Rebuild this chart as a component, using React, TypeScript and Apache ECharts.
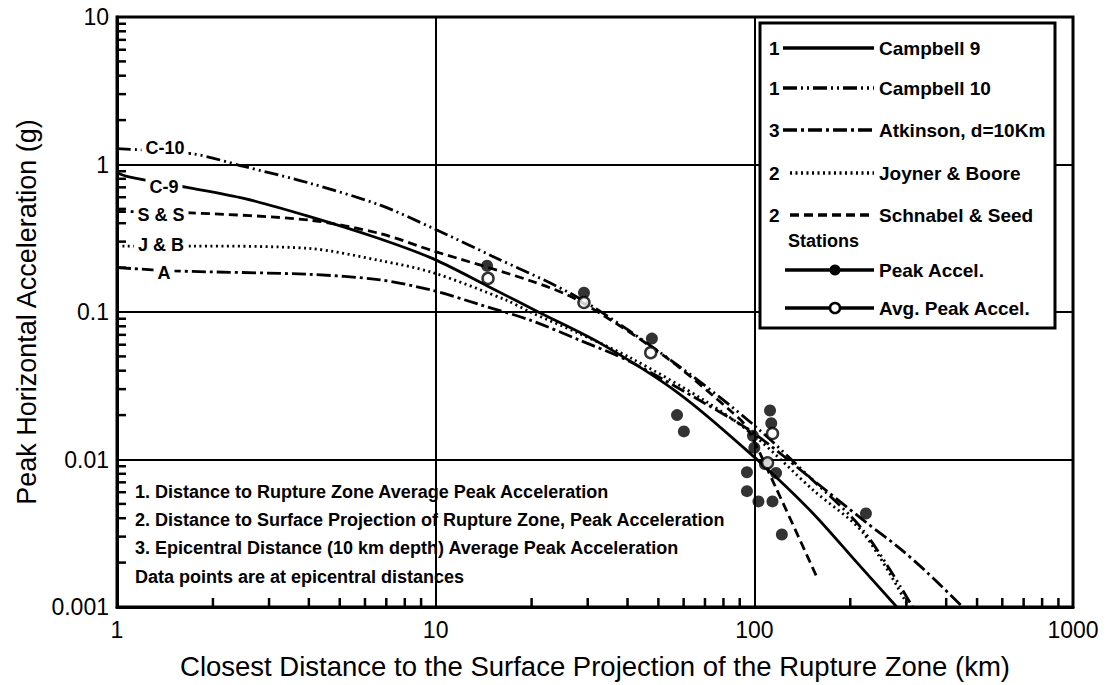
import React, { useEffect, useRef } from "react";
import * as echarts from "echarts";

// ---------- data ----------
const xTicks = [1, 10, 100, 1000];
const xTickLabels = ["1", "10", "100", "1000"];
const yTicks = [0.001, 0.01, 0.1, 1, 10];
const yTickLabels = ["0.001", "0.01", "0.1", "1", "10"];
const xMinorTicks = [2, 3, 4, 5, 6, 7, 8, 9, 20, 30, 40, 50, 60, 70, 80, 90, 200, 300, 400, 500, 600, 700, 800, 900];
const yMinorTicks = [0.002, 0.003, 0.004, 0.005, 0.006, 0.007, 0.008, 0.009, 0.02, 0.03, 0.04, 0.05, 0.06, 0.07, 0.08, 0.09, 0.2, 0.3, 0.4, 0.5, 0.6, 0.7, 0.8, 0.9, 2, 3, 4, 5, 6, 7, 8, 9];

const c9Dist = [1, 1.1, 1.66, 2.5, 4, 6.5, 9.8, 15, 21, 33, 58, 97, 150, 210, 280];
const c9Acc = [0.88, 0.82, 0.7, 0.59, 0.445, 0.32, 0.23, 0.145, 0.1, 0.061, 0.028, 0.011, 0.0045, 0.002, 0.001];

const c10Dist = [1, 1.73, 2.5, 4, 6.7, 9.8, 15, 28, 58, 100, 150, 220, 314];
const c10Acc = [1.28, 1.18, 0.97, 0.75, 0.53, 0.37, 0.24, 0.125, 0.043, 0.017, 0.0075, 0.0033, 0.001];

const atkDist = [1, 1.5, 4, 6.7, 9.8, 13.8, 19.8, 28, 40.8, 70, 100, 150, 226, 286, 350, 451];
const atkAcc = [0.2, 0.19, 0.18, 0.165, 0.14, 0.112, 0.088, 0.065, 0.046, 0.024, 0.015, 0.0075, 0.0037, 0.0025, 0.0017, 0.001];

const jbDist = [1, 1.73, 4, 6.7, 9.8, 16.7, 19.8, 28, 40.8, 70, 100, 153, 219, 305];
const jbAcc = [0.28, 0.28, 0.27, 0.223, 0.185, 0.12, 0.1, 0.072, 0.049, 0.025, 0.0145, 0.0062, 0.0032, 0.001];

const ssDist = [1, 1.7, 4, 6.7, 9.8, 19.8, 28, 53, 85, 94.5, 117, 157];
const ssAcc = [0.48, 0.47, 0.42, 0.34, 0.26, 0.163, 0.12, 0.049, 0.021, 0.0166, 0.0064, 0.0016];

const peakDist = [14.5, 29.2, 47.7, 57.2, 60.1, 112, 113, 94.8, 94.8, 103, 114, 122, 224, 99, 108, 117, 100];
const peakAcc = [0.206, 0.135, 0.066, 0.02, 0.0155, 0.0215, 0.0176, 0.0082, 0.0061, 0.0052, 0.0052, 0.0031, 0.0043, 0.0145, 0.0093, 0.0081, 0.012];

const avgDist = [14.6, 29.2, 47.3, 114, 110];
const avgAcc = [0.169, 0.116, 0.053, 0.015, 0.0095];

const legendNames = ["Campbell 9", "Campbell 10", "Atkinson, d=10Km", "Joyner & Boore", "Schnabel & Seed"];
const legendPrefix = ["1", "1", "3", "2", "2"];
const stationNames = ["Peak Accel.", "Avg. Peak Accel."];
const curveLabels = ["C-10", "C-9", "S & S", "J & B", "A"];
const notes = [
  "1. Distance to Rupture Zone Average Peak Acceleration",
  "2. Distance to Surface Projection of Rupture Zone, Peak Acceleration",
  "3. Epicentral Distance (10 km depth) Average Peak Acceleration",
  "Data points are at epicentral distances",
];
const xTitle = "Closest Distance to the Surface Projection of the Rupture Zone (km)";
const yTitle = "Peak Horizontal Acceleration (g)";

// ---------- layout & styles ----------
const W = 1111;
const H = 685;
const GRID = { left: 117, right: 38, top: 17, bottom: 78 };
const FONT = '"Liberation Sans", Arial, Helvetica, sans-serif';
const dashC9: any = "solid";
const dashC10 = [14, 4, 2, 4, 2, 4];
const dashAtk = [14, 4, 3, 4];
const dashJB = [2, 3.5];
const dashSS = [9, 5];

const zip = (xs: number[], ys: number[]) => xs.map((x, i) => [x, ys[i]]);

function fmt(ticks: number[], labels: string[]) {
  return (v: number) => {
    const i = ticks.findIndex((t) => Math.abs(Math.log10(t) - Math.log10(v)) < 1e-6);
    return i >= 0 ? labels[i] : "";
  };
}

export default function App() {
  const ref = useRef<HTMLDivElement>(null);
  useEffect(() => {
    if (!ref.current) return;
    const chart = echarts.init(ref.current, undefined, { renderer: "svg" });

    const lineSeries = (name: string, d: number[], a: number[], dash: any) => ({
      name,
      type: "line",
      data: zip(d, a),
      showSymbol: false,
      smooth: 0.3,
      lineStyle: { color: "#000", width: 2.8, type: dash, cap: "butt" },
      z: 3,
    });

    // legend graphic
    const L = { x: 760, y: 23, w: 295, h: 305 };
    const rowY = [48, 88, 130, 173, 215];
    const rowDash = [dashC9, dashC10, dashAtk, dashJB, dashSS];
    const rowX1 = [783, 783, 783, 790, 790];
    const legendEls: any[] = [
      {
        type: "rect",
        shape: { x: L.x, y: L.y, width: L.w, height: L.h },
        style: { fill: "#fff", stroke: "#000", lineWidth: 3 },
        z: 100,
      },
    ];
    legendNames.forEach((n, i) => {
      legendEls.push({
        type: "text",
        x: 769,
        y: rowY[i],
        style: { text: legendPrefix[i], font: `bold 19px ${FONT}`, fill: "#000", align: "left", verticalAlign: "middle" },
        z: 101,
      });
      legendEls.push({
        type: "line",
        shape: { x1: rowX1[i], y1: rowY[i], x2: 874, y2: rowY[i] },
        style: {
          stroke: "#000",
          lineWidth: 3.5,
          lineDash: rowDash[i] === "solid" ? null : rowDash[i],
        },
        z: 101,
      });
      legendEls.push({
        type: "text",
        x: 879,
        y: rowY[i],
        style: { text: n, font: `bold 19px ${FONT}`, fill: "#000", align: "left", verticalAlign: "middle" },
        z: 101,
      });
    });
    legendEls.push({
      type: "text",
      x: 788,
      y: 241,
      style: { text: "Stations", font: `bold 18px ${FONT}`, fill: "#000", align: "left", verticalAlign: "middle" },
      z: 101,
    });
    const stY = [270, 308];
    stationNames.forEach((n, i) => {
      legendEls.push({
        type: "line",
        shape: { x1: 785, y1: stY[i], x2: 874, y2: stY[i] },
        style: { stroke: "#000", lineWidth: 3.5 },
        z: 101,
      });
      legendEls.push({
        type: "circle",
        shape: { cx: 835, cy: stY[i], r: i === 0 ? 5.5 : 5 },
        style: i === 0 ? { fill: "#000" } : { fill: "#fff", stroke: "#000", lineWidth: 2.5 },
        z: 102,
      });
      legendEls.push({
        type: "text",
        x: 879,
        y: stY[i],
        style: { text: n, font: `bold 19px ${FONT}`, fill: "#000", align: "left", verticalAlign: "middle" },
        z: 101,
      });
    });

    // curve labels at the left
    const labPos = [
      [165, 148],
      [164, 187],
      [161, 215],
      [161, 245],
      [164, 273],
    ];
    const labelEls = curveLabels.map((t, i) => ({
      type: "text",
      x: labPos[i][0],
      y: labPos[i][1],
      style: {
        text: t,
        font: `bold 18px ${FONT}`,
        fill: "#000",
        align: "center",
        verticalAlign: "middle",
        backgroundColor: "#fff",
        padding: [1, 4],
      },
      z: 90,
    }));

    const noteY = [492, 520, 548, 577];
    const noteEls = notes.map((t, i) => ({
      type: "text",
      x: 135,
      y: noteY[i],
      style: { text: t, font: `bold 18px ${FONT}`, fill: "#000", align: "left", verticalAlign: "middle" },
      z: 90,
    }));

    const option: any = {
      animation: false,
      backgroundColor: "#fff",
      grid: {
        ...GRID,
        show: true,
        borderColor: "#000",
        borderWidth: 3,
        backgroundColor: "transparent",
      },
      xAxis: {
        type: "log",
        logBase: 10,
        min: 1,
        max: 1000,
        interval: 1,
        position: "bottom",
        name: xTitle,
        nameLocation: "middle",
        nameGap: 45,
        nameTextStyle: { fontFamily: FONT, fontSize: 27.5, color: "#000" },
        axisLine: { show: true, onZero: false, lineStyle: { color: "#000", width: 3 } },
        axisTick: { show: false },
        axisLabel: { fontFamily: FONT, fontSize: 23, color: "#000", margin: 11, formatter: fmt(xTicks, xTickLabels) },
        splitLine: { show: true, lineStyle: { color: "#000", width: 2 } },
      },
      yAxis: {
        type: "log",
        logBase: 10,
        min: 0.001,
        max: 10,
        interval: 1,
        position: "left",
        name: yTitle,
        nameLocation: "middle",
        nameGap: 72,
        nameRotate: 90,
        nameTextStyle: { fontFamily: FONT, fontSize: 27, color: "#000" },
        axisLine: { show: true, onZero: false, lineStyle: { color: "#000", width: 3 } },
        axisTick: { show: false },
        axisLabel: { fontFamily: FONT, fontSize: 23, color: "#000", margin: 8, formatter: fmt(yTicks, yTickLabels) },
        splitLine: { show: true, lineStyle: { color: "#000", width: 2 } },
      },
      series: [
        lineSeries(legendNames[0], c9Dist, c9Acc, dashC9),
        lineSeries(legendNames[1], c10Dist, c10Acc, dashC10),
        lineSeries(legendNames[2], atkDist, atkAcc, dashAtk),
        lineSeries(legendNames[3], jbDist, jbAcc, dashJB),
        lineSeries(legendNames[4], ssDist, ssAcc, dashSS),
        {
          name: stationNames[0],
          type: "scatter",
          data: zip(peakDist, peakAcc),
          symbol: "circle",
          symbolSize: 12,
          itemStyle: { color: "#000" },
          z: 5,
        },
        {
          name: stationNames[1],
          type: "scatter",
          data: zip(avgDist, avgAcc),
          symbol: "circle",
          symbolSize: 11,
          itemStyle: { color: "#fff", borderColor: "#000", borderWidth: 2.5 },
          z: 6,
        },
      ],
      graphic: [...legendEls, ...labelEls, ...noteEls],
    };
    chart.setOption(option);

    // minor ticks: positions along each axis from the chart's own log scales
    const bottomY = H - GRID.bottom;
    const leftX = GRID.left;
    const tickEls: any[] = [];
    xMinorTicks.forEach((v) => {
      const px = Number(chart.convertToPixel({ xAxisIndex: 0 }, v));
      if (isFinite(px)) {
        tickEls.push({
          type: "rect",
          shape: { x: px - 1.25, y: bottomY - 9, width: 2.5, height: 9 },
          style: { fill: "#000" },
          z: 120,
        });
      }
    });
    yMinorTicks.forEach((v) => {
      const py = Number(chart.convertToPixel({ yAxisIndex: 0 }, v));
      if (isFinite(py)) {
        tickEls.push({
          type: "rect",
          shape: { x: leftX, y: py - 1.25, width: 9, height: 2.5 },
          style: { fill: "#000" },
          z: 120,
        });
      }
    });
    chart.setOption({ graphic: [...legendEls, ...labelEls, ...noteEls, ...tickEls] });

    return () => chart.dispose();
  }, []);

  return (
    <div
      ref={ref}
      style={{ position: "fixed", left: 0, top: 0, width: W, height: H, background: "#fff" }}
    />
  );
}
